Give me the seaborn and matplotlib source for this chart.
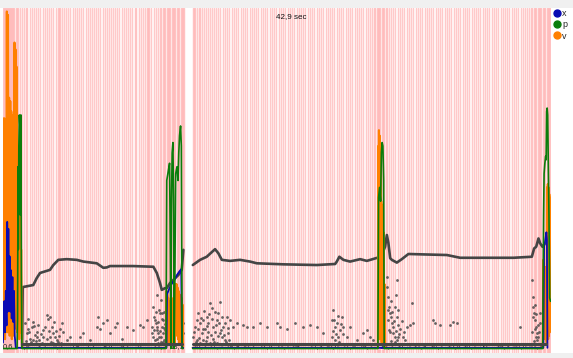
import numpy as np
import pandas as pd
import matplotlib
matplotlib.use("Agg")
import matplotlib.pyplot as plt
from matplotlib.lines import Line2D
from matplotlib.patches import Rectangle
import seaborn as sns

sns.set_theme(style="white")
plt.rcParams['font.family'] = ['Liberation Sans', 'DejaVu Sans']

nan = np.nan

# ─────────────────────────────────────────────
# DATA  (time in seconds, signal in % of height)
# ─────────────────────────────────────────────
beat_times = [
    0.62, 0.70, 0.78, 0.86, 0.94, 1.02, 1.10, 1.18, 1.26, 1.34, 1.42, 1.50, 1.58, 1.66,
    1.76, 1.92, 2.05, 2.22, 2.38, 2.50, 2.71, 2.86, 3.02, 3.20, 3.33, 3.52, 3.70, 3.85,
    4.05, 4.22, 4.36, 4.55, 4.72, 4.88, 5.02, 5.10, 5.20, 5.36, 5.55, 5.71, 5.88, 6.05,
    6.20, 6.40, 6.55, 6.72, 6.88, 7.06, 7.22, 7.38, 7.57, 7.73, 7.88, 8.05, 8.22, 8.40,
    8.55, 8.72, 8.90, 9.05, 9.24, 9.40, 9.56, 9.72, 9.90, 10.05, 10.22, 10.40, 10.56,
    10.72, 10.90, 11.05, 11.22, 11.40, 11.56, 11.74, 11.88, 11.96, 12.05, 12.22, 12.40,
    12.55, 12.72, 12.88, 13.00, 13.10, 13.20, 13.30, 13.40, 13.50, 13.60, 13.70, 13.80,
    13.90, 14.00, 14.10, 14.20, 14.30, 14.40, 14.50, 14.60, 14.70, 14.80,
    15.45, 15.55, 15.65, 15.78, 15.92, 16.05, 16.20, 16.35, 16.50, 16.66, 16.80, 16.95,
    17.10, 17.28, 17.45, 17.62, 17.80, 17.98, 18.15, 18.33, 18.50, 18.68, 18.86, 19.02,
    19.20, 19.38, 19.55, 19.72, 19.90, 20.08, 20.25, 20.42, 20.60, 20.78, 20.95, 21.12,
    21.30, 21.48, 21.65, 21.82, 22.00, 22.18, 22.35, 22.52, 22.70, 22.88, 23.05, 23.22,
    23.40, 23.58, 23.75, 23.92, 24.10, 24.28, 24.45, 24.62, 24.80, 24.98, 25.15, 25.32,
    25.50, 25.68, 25.85, 26.02, 26.20, 26.38, 26.55, 26.72, 26.90, 27.08, 27.25, 27.42,
    27.60, 27.78, 27.95, 28.12, 28.30, 28.48, 28.65, 28.82, 29.00, 29.18, 29.35, 29.50,
    29.62, 29.75, 29.85, 29.95, 30.05, 30.15, 30.25, 30.35, 30.45, 30.55, 30.68, 30.82,
    30.98, 31.15, 31.32, 31.50, 31.68, 31.85, 32.02, 32.20, 32.38, 32.55, 32.72, 32.90,
    33.08, 33.25, 33.42, 33.60, 33.78, 33.95, 34.12, 34.30, 34.48, 34.65, 34.82, 35.00,
    35.18, 35.35, 35.52, 35.70, 35.88, 36.05, 36.22, 36.40, 36.58, 36.75, 36.92, 37.10,
    37.28, 37.45, 37.62, 37.80, 37.98, 38.15, 38.32, 38.50, 38.68, 38.85, 39.02, 39.20,
    39.38, 39.55, 39.72, 39.90, 40.08, 40.25, 40.42, 40.60, 40.78, 40.95, 41.12, 41.30,
    41.48, 41.65, 41.80, 41.92, 42.05, 42.15, 42.25, 42.35, 42.45, 42.55, 42.65, 42.75,
    42.85, 42.95, 43.05, 43.15, 43.25, 43.35, 43.45,
]

tick_pos = [0.6, 1.9, 3.2, 4.5, 5.8, 7.1, 8.4, 9.7, 11.0, 12.3, 13.6,
            15.4, 16.7, 18.0, 19.3, 20.6, 21.9, 23.2, 24.5, 25.8, 27.1, 28.4,
            30.1, 31.4, 32.7, 34.0, 35.3, 36.6, 37.9, 39.2, 40.5, 41.8]
tick_labels = ['0,6', '1,9', '3,2', '4,5', '5,8', '7,1', '8,4', '9,7', '11', '12,2', '13,5',
               '16,2', '17,5', '18,8', '20,1', '21,4', '22,7', '24', '25,3', '26,6', '27,9', '29,2',
               '30,2', '31,5', '32,8', '34,1', '35,4', '36,7', '38', '39,3', '40,6', '42,3']

# dark gray trace
trace = [(2.10, 2.5), (2.14, 19.1), (2.97, 19.7), (3.24, 21.7), (3.50, 23.2), (4.28, 24.1),
         (4.54, 25.5), (4.93, 27.0), (5.59, 27.2), (6.37, 27.0), (6.89, 26.5), (7.94, 26.0),
         (8.45, 24.7), (8.72, 24.8), (8.98, 25.2), (10.78, 25.2), (12.37, 25.0), (12.64, 23.2),
         (12.89, 20.3), (13.03, 18.3), (13.29, 18.8), (13.42, 18.8), (13.68, 20.3), (13.94, 21.2),
         (14.33, 22.6), (14.59, 24.1), (14.72, 29.9), (nan, nan),
         (15.46, 25.5), (16.03, 27.0), (16.55, 27.9), (17.20, 30.1), (17.46, 28.9), (17.73, 27.0),
         (18.38, 26.7), (19.16, 27.0), (19.94, 26.5), (20.47, 26.0), (22.55, 25.7), (25.17, 25.5),
         (26.60, 25.8), (26.73, 26.5), (26.93, 27.9), (27.25, 27.0), (27.77, 26.5), (28.56, 27.2),
         (29.08, 26.7), (29.99, 27.7), (30.12, 27.2), (30.51, 30.8), (30.65, 34.2), (30.77, 31.9),
         (30.91, 27.5), (31.04, 27.0), (31.43, 26.2), (31.82, 27.2), (32.34, 28.7), (33.26, 28.6),
         (35.35, 28.4), (36.39, 27.6), (37.95, 27.6), (40.56, 27.6), (42.00, 27.9), (42.18, 30.3),
         (42.34, 30.8), (42.52, 33.2), (42.65, 31.8), (42.83, 30.8), (43.04, 31.8)]

# band of dots lying on zero
band = [(2.1, 2.6), (14.65, 2.6), (nan, nan), (15.45, 2.6), (43.1, 2.6)]

# scattered dots
dots = [(2.32, 8.6), (2.45, 5.7), (2.58, 7.1), (2.71, 4.2), (2.98, 3.7), (3.11, 5.2), (3.24, 6.1),
        (3.29, 4.7), (3.45, 3.7), (3.63, 2.8), (2.98, 9.0), (2.85, 7.6), (3.76, 4.7), (3.89, 7.6),
        (4.02, 11.0), (4.15, 10.0), (4.28, 10.5), (4.41, 7.6), (4.54, 5.7), (4.67, 4.7), (4.80, 3.7),
        (4.93, 3.2), (5.06, 7.1), (5.20, 8.6), (4.28, 4.7), (4.49, 2.8), (5.33, 6.1), (5.59, 3.7),
        (5.85, 4.7), (6.63, 4.7), (6.89, 5.7), (7.41, 3.7), (7.94, 7.6), (8.07, 10.5), (8.20, 7.1),
        (8.46, 8.6), (8.72, 9.5), (8.98, 5.7), (9.37, 7.6), (9.50, 8.6), (9.89, 4.2), (10.28, 7.6),
        (10.81, 6.6), (11.33, 8.1), (11.59, 7.6), (11.85, 9.5), (12.38, 13.4), (12.43, 10.5),
        (12.51, 9.5), (12.58, 8.6), (12.64, 7.6), (12.69, 6.6), (12.77, 5.7), (12.85, 4.7),
        (12.90, 11.5), (12.95, 15.3), (13.03, 7.6), (13.11, 5.7), (13.16, 9.5), (13.21, 3.7),
        (13.29, 6.6), (12.64, 16.8), (12.24, 7.6), (12.32, 4.7), (12.53, 3.7), (12.74, 2.8),
        (13.00, 4.7), (13.08, 11.5), (13.26, 8.5), (14.60, 11.5), (14.67, 8.6), (14.73, 5.7),
        (14.46, 4.7), (2.40, 3.6), (2.52, 9.8), (2.66, 6.2), (2.78, 3.2), (3.05, 7.8), (3.18, 3.4),
        (3.36, 8.2), (3.55, 5.6), (3.70, 6.8), (4.08, 4.1), (4.22, 6.3), (4.35, 3.3), (4.62, 8.9),
        (4.75, 6.4), (5.00, 4.9), (5.12, 2.9), (12.28, 5.9), (12.46, 6.8), (12.56, 11.8),
        (12.62, 4.2), (12.72, 9.1), (12.80, 12.4), (12.88, 6.3), (12.93, 3.3), (13.06, 9.8),
        (13.13, 3.1), (13.19, 7.2), (13.24, 12.0), (14.52, 6.9), (14.63, 3.9),
        (15.50, 4.7), (15.63, 7.6), (15.77, 9.5), (15.90, 11.5), (16.03, 8.6), (16.16, 5.7),
        (16.29, 3.7), (16.42, 7.1), (16.55, 10.5), (16.68, 8.6), (16.81, 14.4), (16.94, 12.9),
        (17.07, 7.6), (17.20, 6.1), (17.33, 9.5), (17.46, 11.5), (17.59, 14.8), (17.72, 4.7),
        (17.85, 7.6), (17.98, 8.6), (18.12, 10.5), (18.25, 5.7), (18.38, 9.5), (18.64, 7.6),
        (18.90, 8.6), (19.42, 8.1), (19.68, 7.6), (20.20, 7.6), (20.73, 8.6), (21.25, 7.6),
        (22.03, 8.6), (22.29, 7.6), (22.82, 7.1), (23.47, 8.6), (24.12, 7.6), (24.64, 8.1),
        (25.16, 7.6), (25.69, 5.7), (26.34, 9.5), (26.47, 12.4), (26.60, 7.6), (26.73, 8.6),
        (26.86, 4.7), (26.99, 6.6), (27.12, 10.5), (27.25, 7.6), (26.34, 4.7), (26.60, 3.7),
        (27.51, 4.7), (27.78, 7.6), (28.30, 3.7), (28.82, 5.7), (29.08, 6.6), (29.34, 4.7),
        (29.60, 3.7), (15.77, 3.7), (16.03, 2.8), (16.55, 4.7), (16.81, 2.8), (17.07, 4.2),
        (17.33, 2.8), (17.59, 5.7), (17.98, 3.7), (16.29, 9.5), (17.20, 11.9), (16.68, 6.1),
        (15.56, 6.2), (15.70, 3.1), (15.84, 7.0), (15.96, 4.4), (16.10, 10.1), (16.22, 6.9),
        (16.36, 12.2), (16.48, 3.5), (16.60, 7.9), (16.74, 11.2), (16.88, 5.2), (17.00, 9.9),
        (17.14, 3.3), (17.26, 8.0), (17.40, 5.0), (17.52, 8.8), (17.66, 6.6), (17.78, 10.4),
        (17.92, 5.2), (18.05, 3.1), (18.18, 7.3), (18.32, 3.9), (26.40, 6.3), (26.53, 9.6),
        (26.66, 5.4), (26.80, 10.8), (26.92, 3.2), (27.05, 8.3), (27.18, 5.5),
        (30.64, 22.1), (30.69, 19.2), (30.77, 16.3), (30.85, 13.4), (30.90, 11.5), (30.96, 10.5),
        (30.77, 9.5), (31.03, 8.6), (31.11, 7.6), (30.90, 6.1), (31.16, 5.7), (31.30, 4.7),
        (31.43, 3.7), (31.56, 8.1), (31.69, 7.1), (31.95, 4.7), (32.08, 3.7), (32.21, 7.6),
        (32.47, 8.1), (32.60, 14.4), (32.73, 8.6), (31.30, 13.4), (31.43, 10.5), (31.43, 21.1),
        (31.38, 16.8), (31.56, 4.7), (34.30, 9.5), (34.43, 8.6), (34.82, 8.1), (35.60, 8.1),
        (35.86, 9.0), (36.13, 8.6), (41.09, 7.6), (42.00, 21.1), (42.08, 16.3), (42.13, 13.4),
        (42.18, 11.5), (42.26, 9.5), (42.34, 7.6), (42.39, 5.7), (42.52, 4.7), (42.08, 10.5),
        (42.26, 7.1), (42.44, 3.7), (42.60, 8.6), (42.65, 11.5), (30.72, 12.4), (30.82, 6.8),
        (30.94, 15.0), (31.00, 3.6), (31.08, 11.9), (31.20, 9.2), (31.25, 3.2), (31.35, 6.3),
        (31.50, 12.6), (31.62, 5.4), (31.80, 9.4), (32.00, 6.1), (42.05, 6.2), (42.15, 3.4),
        (42.22, 13.9), (42.30, 4.6), (42.36, 11.2), (42.48, 8.0), (42.56, 6.1)]

# x (blue)
x_sig = [(0.60, 3), (0.70, 15), (0.76, 6), (0.82, 18), (0.88, 8), (0.93, 38), (0.97, 12),
         (1.02, 36), (1.07, 14), (1.12, 28), (1.17, 12), (1.22, 24), (1.28, 10), (1.34, 22),
         (1.40, 9), (1.46, 18), (1.52, 5), (1.60, 1.5), (2.14, 1.5), (13.40, 1.5), (13.44, 17),
         (13.60, 18.5), (13.80, 20), (14.00, 21), (14.20, 22.5), (14.40, 23.6), (14.55, 24.3),
         (14.62, 1.5), (14.70, 1.5), (nan, nan), (15.45, 1.5), (42.90, 1.5), (42.96, 31),
         (43.02, 32), (43.08, 33.5), (43.14, 35), (43.18, 33), (43.22, 1.5)]

# p (green)
p_sig = [(0.60, 1.3), (1.70, 1.3), (1.74, 10), (1.78, 54), (1.80, 30), (1.84, 60), (1.88, 69),
         (1.92, 66), (1.96, 40), (2.00, 69), (2.04, 20), (2.08, 1.3), (13.36, 1.3), (13.42, 50),
         (13.55, 53), (13.64, 55), (13.70, 30), (13.74, 1.3), (13.78, 40), (13.84, 58),
         (13.90, 61), (13.95, 45), (14.00, 1.3), (14.05, 20), (14.12, 52), (14.22, 54),
         (14.30, 50), (14.36, 58), (14.42, 63), (14.50, 65.8), (14.56, 60), (14.62, 1.3),
         (14.70, 1.3), (nan, nan), (15.45, 1.3), (29.95, 1.3), (30.00, 45), (30.08, 48),
         (30.16, 44), (30.22, 58), (30.28, 61), (30.34, 60), (30.40, 50), (30.44, 1.3),
         (42.85, 1.3), (42.88, 20), (42.92, 40), (42.96, 52), (43.02, 55), (43.08, 57),
         (43.12, 56), (43.16, 70), (43.20, 71), (43.24, 69), (43.28, 57), (43.34, 40),
         (43.40, 16), (43.46, 15)]

# v (orange)
v_sig = [(0.60, 5), (0.64, 68), (0.68, 8), (0.72, 68), (0.76, 4), (0.80, 66), (0.85, 10),
         (0.90, 99), (0.94, 6), (0.99, 98), (1.03, 12), (1.08, 74), (1.12, 5), (1.17, 73),
         (1.21, 8), (1.25, 70), (1.29, 4), (1.33, 69), (1.37, 9), (1.41, 65), (1.45, 5),
         (1.50, 90), (1.54, 7), (1.58, 88), (1.62, 10), (1.66, 83), (1.70, 6), (1.74, 50),
         (1.78, 5), (1.82, 48), (1.87, 4), (1.92, 45), (1.97, 6), (2.02, 30), (2.08, 3),
         (2.14, 1.5), (13.36, 1.5), (13.40, 18), (13.43, 4), (13.46, 17), (13.50, 3), (13.54, 16),
         (13.58, 5), (13.62, 15), (13.66, 3), (13.70, 12), (13.74, 4), (13.78, 13), (13.82, 3),
         (13.86, 15), (13.90, 5), (13.94, 16), (13.98, 4), (14.02, 19), (14.06, 3), (14.10, 20),
         (14.14, 5), (14.18, 20), (14.22, 6), (14.26, 19), (14.30, 4), (14.34, 18), (14.38, 3),
         (14.42, 17), (14.46, 5), (14.50, 15), (14.54, 3), (14.58, 16), (14.62, 4), (14.66, 14),
         (14.70, 2), (nan, nan),
         (15.45, 1.5), (29.94, 1.5), (29.97, 60), (30.00, 5), (30.03, 64.6), (30.06, 4),
         (30.09, 63), (30.12, 6), (30.15, 60), (30.18, 5), (30.21, 44), (30.24, 3), (30.27, 43),
         (30.30, 5), (30.33, 40), (30.36, 3), (30.39, 35), (30.42, 4), (30.46, 20), (30.52, 1.5),
         (42.86, 1.5), (42.89, 27), (42.92, 4), (42.95, 26), (42.98, 5), (43.01, 25), (43.04, 4),
         (43.07, 22), (43.10, 6), (43.13, 21), (43.16, 3), (43.19, 48), (43.22, 6), (43.25, 49),
         (43.28, 4), (43.31, 48), (43.34, 5), (43.37, 46), (43.40, 6), (43.43, 45), (43.46, 8),
         (43.49, 40)]

COL_X = '#0a0ab4'
COL_P = '#0b7d0b'
COL_V = '#ff8000'
COL_TRACE = '#454545'


def to_frame(pairs):
    df = pd.DataFrame(pairs, columns=['t', 'val'])
    df['seg'] = df['t'].isna().cumsum()
    return df.dropna()


# ─────────────────────────────────────────────
# FIGURE
# ─────────────────────────────────────────────
fig = plt.figure(figsize=(5.73, 3.58), dpi=100, facecolor='#f0f0f0')
fig.add_artist(Rectangle((0, 5 / 358), 1, 345 / 358, transform=fig.transFigure,
                         facecolor='white', edgecolor='none', zorder=-10))
ax = fig.add_axes([3 / 573, 5 / 358, 548 / 573, 345 / 358])
ax.set_facecolor('none')

for bt in beat_times:
    ax.axvline(bt, color='#ff9494', alpha=0.5, lw=1.05, zorder=0.3)

sns.scatterplot(data=to_frame(dots), x='t', y='val', ax=ax, s=4, color='#4a4a4a',
                linewidth=0, alpha=0.85, zorder=2, legend=False)

sns.lineplot(data=to_frame(trace), x='t', y='val', units='seg', estimator=None, sort=False,
             ax=ax, color=COL_TRACE, lw=1.9, zorder=3, legend=False)

sns.lineplot(data=to_frame(v_sig), x='t', y='val', units='seg', estimator=None, sort=False,
             ax=ax, color=COL_V, lw=1.5, zorder=4, legend=False)
sns.lineplot(data=to_frame(x_sig), x='t', y='val', units='seg', estimator=None, sort=False,
             ax=ax, color=COL_X, lw=1.3, zorder=5, legend=False)
sns.lineplot(data=to_frame(p_sig), x='t', y='val', units='seg', estimator=None, sort=False,
             ax=ax, color=COL_P, lw=1.2, zorder=6, legend=False)
sns.lineplot(data=to_frame(band), x='t', y='val', units='seg', estimator=None, sort=False,
             ax=ax, color=COL_TRACE, lw=2.2, zorder=6.5, legend=False)

ax.set_xlim(0.6, 43.5)
ax.set_ylim(0, 100)
ax.set_xlabel('')
ax.set_ylabel('')
ax.set_yticks([])
ax.set_xticks(tick_pos)
ax.set_xticklabels(tick_labels, fontsize=5.5, ha='left', color='#222222')
ax.tick_params(axis='x', length=0, pad=-7)
for s in ax.spines.values():
    s.set_visible(False)

ax.text(0.5255, 0.974, '42,9 sec', transform=ax.transAxes, ha='center', va='center',
        fontsize=5.8, color='#111111')

handles = [Line2D([], [], marker='o', ls='', color=c, markersize=5)
           for c in (COL_X, COL_P, COL_V)]
fig.legend(handles, ['x', 'p', 'v'], loc='upper left', bbox_to_anchor=(554 / 573, 1 - 9 / 358),
           frameon=False, fontsize=6.5, handlelength=0.6, handletextpad=0.3,
           labelspacing=0.25, borderpad=0, borderaxespad=0)

fig.savefig('out.png', dpi=100, facecolor=fig.get_facecolor())
